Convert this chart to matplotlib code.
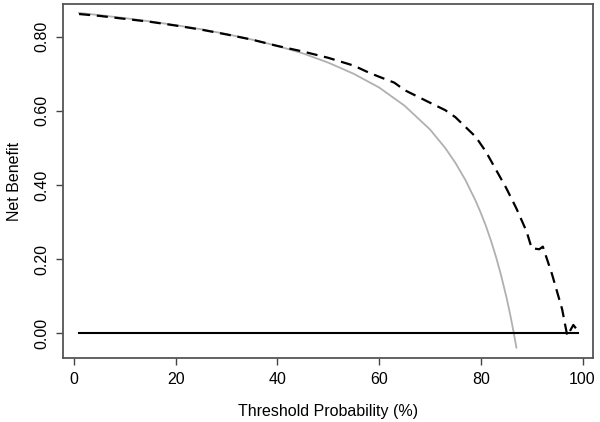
import matplotlib
matplotlib.use("Agg")
import matplotlib.pyplot as plt

plt.rcParams["font.family"] = ["Liberation Sans", "DejaVu Sans"]

# threshold probability (%) and net benefit
model_x = [1, 5, 10, 15, 20, 25, 30, 35, 40, 45, 50, 55, 58, 60, 63, 65, 70, 73, 75,
           79, 81, 83, 85, 87, 89, 90, 91.5, 92.2, 94, 96, 97, 98.2, 99.2]
model_nb = [0.861, 0.856, 0.848, 0.840, 0.830, 0.819, 0.806, 0.792, 0.775, 0.760,
            0.743, 0.722, 0.703, 0.692, 0.676, 0.656, 0.622, 0.602, 0.583,
            0.530, 0.490, 0.441, 0.392, 0.337, 0.275, 0.230, 0.227, 0.234,
            0.160, 0.065, -0.006, 0.023, 0.005]

all_x = [1, 5, 10, 15, 20, 25, 30, 35, 40, 45, 50, 55, 60, 65, 70, 73, 75, 77,
         79, 80, 81, 82, 83, 84, 85, 85.5, 86, 86.5, 87]
all_nb = [0.864, 0.858, 0.850, 0.841, 0.831, 0.820, 0.807, 0.792, 0.775, 0.755,
          0.730, 0.700, 0.663, 0.614, 0.550, 0.500, 0.460, 0.413, 0.357, 0.325,
          0.290, 0.250, 0.206, 0.156, 0.100, 0.069, 0.036, 0.000, -0.038]

none_x = [1, 99.2]
none_nb = [0, 0]

fig = plt.figure(figsize=(6, 4.22), dpi=100)
ax = fig.add_axes([0.1055, 0.1517, 0.8823, 0.8388])

ax.plot(all_x, all_nb, color="#b0b0b0", lw=1.3)
ax.plot(model_x, model_nb, color="black", lw=1.6, ls=(0, (5, 3)))
ax.plot(none_x, none_nb, color="black", lw=1.5)

ax.set_xlim(-2.1, 102)
ax.set_ylim(-0.066, 0.888)
ax.set_xticks([0, 20, 40, 60, 80, 100])
ax.set_yticks([0, 0.2, 0.4, 0.6, 0.8])
ax.set_yticklabels(["0.00", "0.20", "0.40", "0.60", "0.80"], rotation=90, va="center")
ax.tick_params(labelsize=11.5, length=5, width=1, color="#444444", pad=5)

for s in ax.spines.values():
    s.set_color("#555555")
    s.set_linewidth(1.3)

ax.set_xlabel("Threshold Probability (%)", fontsize=11.5, labelpad=12)
ax.set_ylabel("Net Benefit", fontsize=11.5, labelpad=9)

fig.savefig("out.png", dpi=100)
